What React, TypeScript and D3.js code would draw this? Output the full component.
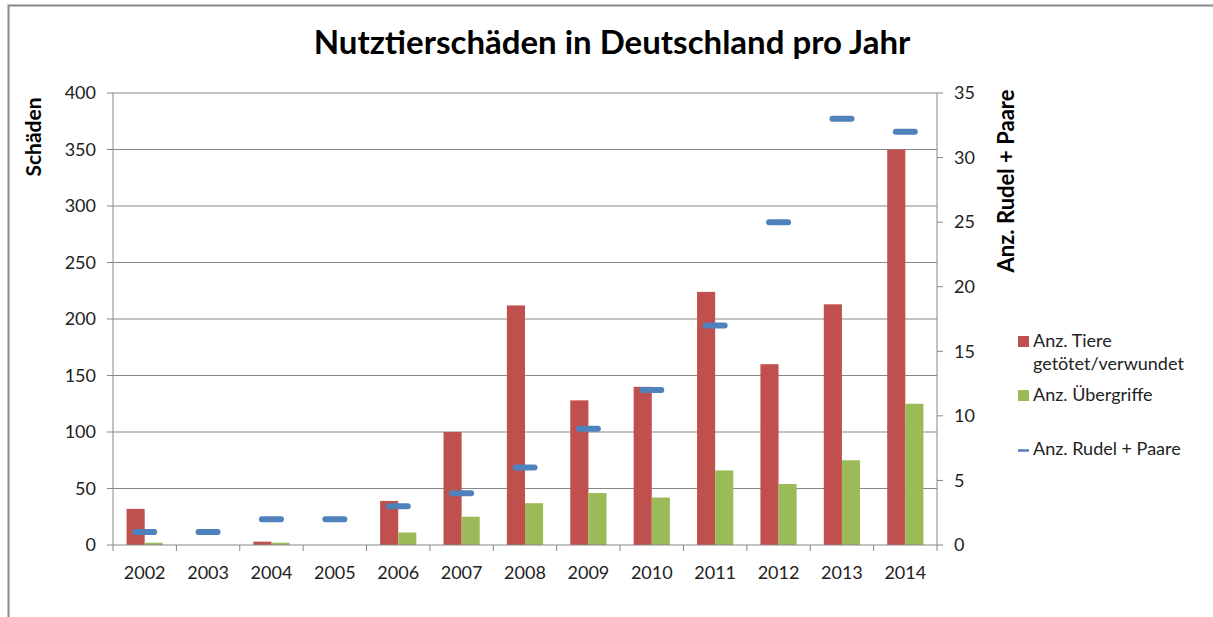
import React from "react";
import * as d3 from "d3";

const years = ["2002", "2003", "2004", "2005", "2006", "2007", "2008", "2009", "2010", "2011", "2012", "2013", "2014"];
const tiere = [32, 0, 3, 0, 39, 100, 212, 128, 140, 224, 160, 213, 350];
const uebergriffe = [2, 0, 2, 0, 11, 25, 37, 46, 42, 66, 54, 75, 125];
const rudel = [1, 1, 2, 2, 3, 4, 6, 9, 12, 17, 25, 33, 32];
const leftTicks = [0, 50, 100, 150, 200, 250, 300, 350, 400];
const rightTicks = [0, 5, 10, 15, 20, 25, 30, 35];

const W = 1213, H = 617;
const plot = { left: 113, right: 937, top: 93, bottom: 545 };
const FONT = "Lato, 'Open Sans', sans-serif";
const RED = "#c0504d", GREEN = "#9bbb59", BLUE = "#4f81bd", GRID = "#878787";

export default function App() {
  const x = d3.scaleBand().domain(years).range([plot.left, plot.right]);
  const yL = d3.scaleLinear().domain([0, 400]).range([plot.bottom, plot.top]);
  const yR = d3.scaleLinear().domain([0, 35]).range([plot.bottom, plot.top]);
  const bw = x.bandwidth();
  const barW = bw / 3.5; // excel gap width 150%
  const mid = (y: string) => (x(y) as number) + bw / 2;

  return (
    <svg width={W} height={H} style={{ position: "absolute", left: 0, top: 0, background: "#fff" }} fontFamily={FONT}>
      <rect x={8.5} y={5.5} width={W + 10} height={H + 10} fill="#fff" stroke="#8a8a8a" strokeWidth={2} />

      <text x={612} y={54} textAnchor="middle" fontSize={33} fontWeight="bold" fill="#000">
        Nutztierschäden in Deutschland pro Jahr
      </text>

      {/* gridlines + left axis */}
      {leftTicks.map(t => (
        <g key={t}>
          <line x1={plot.left - 6} x2={t === 0 ? plot.left : plot.right} y1={yL(t)} y2={yL(t)} stroke={GRID} strokeWidth={1} />
          <text x={96} y={yL(t)} dy="0.35em" textAnchor="end" fontSize={18} fill="#222">{t}</text>
        </g>
      ))}
      <line x1={plot.left} x2={plot.left} y1={plot.top} y2={plot.bottom} stroke={GRID} />

      {/* right axis */}
      <line x1={plot.right} x2={plot.right} y1={plot.top} y2={plot.bottom} stroke={GRID} />
      {rightTicks.map(t => (
        <g key={t}>
          <line x1={plot.right} x2={plot.right + 6} y1={yR(t)} y2={yR(t)} stroke={GRID} />
          <text x={954} y={yR(t)} dy="0.35em" fontSize={18} fill="#222">{t}</text>
        </g>
      ))}

      {/* bars */}
      {years.map((yr, i) => (
        <g key={yr}>
          <rect x={mid(yr) - barW} y={yL(tiere[i])} width={barW} height={plot.bottom - yL(tiere[i])} fill={RED} />
          <rect x={mid(yr)} y={yL(uebergriffe[i])} width={barW} height={plot.bottom - yL(uebergriffe[i])} fill={GREEN} />
        </g>
      ))}

      {/* x axis */}
      <line x1={plot.left} x2={plot.right} y1={plot.bottom} y2={plot.bottom} stroke={GRID} />
      {years.concat(["end"]).map((yr, i) => {
        const xx = plot.left + i * bw;
        return <line key={yr} x1={xx} x2={xx} y1={plot.bottom} y2={plot.bottom + 6} stroke={GRID} />;
      })}
      {years.map(yr => (
        <text key={yr} x={mid(yr)} y={579} textAnchor="middle" fontSize={18} fill="#222">{yr}</text>
      ))}

      {/* rudel markers */}
      {years.map((yr, i) => (
        <line key={yr} x1={mid(yr) - 9.5} x2={mid(yr) + 9.5} y1={yR(rudel[i])} y2={yR(rudel[i])}
          stroke={BLUE} strokeWidth={6} strokeLinecap="round" />
      ))}

      {/* axis titles */}
      <text transform="translate(41,137) rotate(-90)" textAnchor="middle" fontSize={21} fontWeight="bold" fill="#000">Schäden</text>
      <text transform="translate(1014,181) rotate(-90)" textAnchor="middle" fontSize={22} fontWeight="bold" fill="#000">Anz. Rudel + Paare</text>

      {/* legend */}
      <rect x={1018} y={336} width={11} height={11} fill={RED} />
      <text x={1033} y={347} fontSize={18} fill="#222">Anz. Tiere</text>
      <text x={1033} y={370} fontSize={18} fill="#222">getötet/verwundet</text>
      <rect x={1018} y={390} width={11} height={11} fill={GREEN} />
      <text x={1033} y={401} fontSize={18} fill="#222">Anz. Übergriffe</text>
      <line x1={1018} x2={1029} y1={450.5} y2={450.5} stroke={BLUE} strokeWidth={2.5} />
      <text x={1033} y={455} fontSize={18} fill="#222">Anz. Rudel + Paare</text>
    </svg>
  );
}
